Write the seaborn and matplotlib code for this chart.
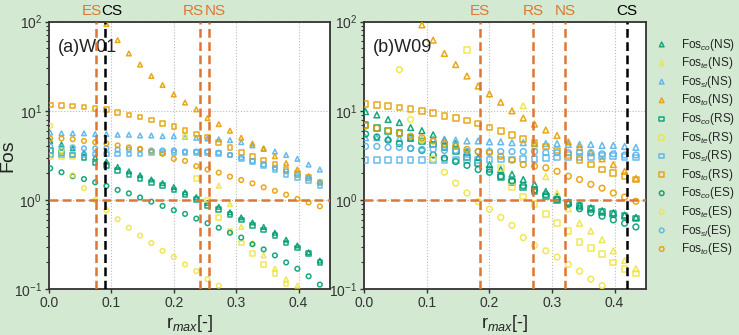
import numpy as np
import matplotlib
matplotlib.use("Agg")
import matplotlib.pyplot as plt
import seaborn as sns

nan = np.nan

# r_max grid (same for both wells)
r = [0.002, 0.020, 0.038, 0.056, 0.074, 0.092, 0.110, 0.128, 0.146, 0.164, 0.182, 0.200, 0.218,
     0.236, 0.254, 0.272, 0.290, 0.308, 0.326, 0.344, 0.362, 0.380, 0.398, 0.416, 0.434]

# ---- W01 ----
co_NS_a = [4.6, 4.2, 3.8, 3.4, 3.0, 2.7, 2.35, 2.1, 1.9, 1.7, 1.55, 1.4, 1.22, 1.08, 0.93, 0.84, 0.73, 0.64, 0.56, 0.5, 0.43, 0.36, 0.31, 0.26, 0.21]
te_NS_a = [nan] * 15 + [1.45, 0.9, 0.5, 0.33, 0.24, 0.17, 0.13, 0.11, nan, nan]
sl_NS_a = [5.7, 5.6, 5.6, 5.6, 5.5, 5.5, 5.4, 5.4, 5.3, 5.3, 5.2, 5.2, 5.1, 5.0, 4.9, 4.8, 4.7, 4.45, 4.1, 3.75, 3.5, 3.2, 2.9, 2.5, 2.2]
to_NS_a = [nan] * 5 + [94, 62, 44, 33, 24.6, 19.5, 15.3, 12.4, 10.4, 8.3, 7.1, 6.0, 5.0, 4.3, 3.8, 3.1, 2.6, 2.2, 1.86, 1.6]
co_RS_a = [3.6, 3.4, 3.2, 3.0, 2.6, 2.45, 2.15, 1.95, 1.75, 1.58, 1.45, 1.3, 1.15, 1.02, 0.87, 0.79, 0.69, 0.6, 0.52, 0.46, 0.4, 0.33, 0.29, 0.25, 0.2]
te_RS_a = [3.1, 3.1, 3.1] + [nan] * 9 + [5.1, 1.75, 1.0, 0.64, 0.45, 0.33, 0.25, 0.19, 0.15, 0.115, nan, nan, nan]
sl_RS_a = [3.2, 3.2, 3.2, 3.2, 3.3, 3.3, 3.3, 3.3, 3.3, 3.4, 3.4, 3.4, 3.4, 3.4, 3.4, 3.35, 3.2, 2.9, 2.7, 2.45, 2.2, 1.95, 1.8, 1.65, 1.45]
to_RS_a = [11.6, 11.4, 11.3, 11.0, 10.6, 10.3, 9.6, 9.0, 8.5, 7.9, 7.25, 6.65, 6.0, 5.5, 5.1, 4.4, 3.9, 3.4, 3.1, 2.8, 2.5, 2.2, 2.0, 1.8, 1.6]
co_ES_a = [2.27, 2.05, 1.85, 1.72, 1.58, 1.44, 1.3, 1.19, 1.07, 0.96, 0.86, 0.77, 0.7, 0.62, 0.55, 0.49, 0.43, 0.38, 0.32, 0.28, 0.24, 0.2, 0.17, 0.14, 0.113]
te_ES_a = [6.8, 3.6, 1.9, 1.36, 1.0, 0.77, 0.61, 0.49, 0.4, 0.33, 0.27, 0.23, 0.19, 0.16, 0.13, 0.11] + [nan] * 9
sl_ES_a = [4.0, 3.9, 3.9, 3.8, 3.8, 3.8, 3.7, 3.7, 3.7, 3.6, 3.6, 3.6, 3.5, 3.5, 3.5, 3.4, 3.2, 3.0, 2.75, 2.5, 2.3, 2.1, 1.9, 1.75, 1.55]
to_ES_a = [4.9, 4.9, 4.8, 4.6, 4.45, 4.3, 4.1, 3.9, 3.75, 3.5, 3.3, 2.9, 2.75, 2.4, 2.2, 2.03, 1.83, 1.68, 1.54, 1.39, 1.27, 1.15, 1.03, 0.94, 0.85]

# ---- W09 ----
co_NS_b = [9.8, 9.0, 8.0, 7.4, 6.5, 6.0, 5.4, 4.7, 4.3, 3.5, 3.0, 2.5, 2.2, 1.95, 1.7, 1.5, 1.25, 1.1, 0.95, 0.88, 0.82, 0.76, 0.72, 0.68, 0.64]
te_NS_b = [nan] * 14 + [11.4, 4.0, 1.83, 1.2, 0.8, 0.55, 0.45, 0.36, 0.27, 0.21, 0.17]
sl_NS_b = [5.0, 5.0, 4.9, 4.9, 4.9, 4.8, 4.8, 4.8, 4.7, 4.6, 4.6, 4.5, 4.5, 4.4, 4.4, 4.3, 4.3, 4.3, 4.2, 4.2, 4.2, 4.1, 4.1, 4.0, 3.9]
to_NS_b = [nan] * 5 + [92, 62, 44, 33, 24.6, 19, 15.5, 12.5, 10, 8.3, 7.1, 6.1, 5.3, 4.5, 3.9, 3.4, 2.9, 2.5, 2.1, 1.75]
co_RS_b = [7.0, 6.4, 6.0, 5.6, 5.0, 4.6, 4.2, 3.9, 3.55, 3.0, 2.6, 2.2, 1.8, 1.6, 1.38, 1.25, 1.1, 1.0, 0.92, 0.86, 0.8, 0.74, 0.7, 0.66, 0.62]
te_RS_b = [nan] * 9 + [48, nan, nan, 2.3, 1.4, 1.1, 0.9, 0.7, 0.55, 0.45, 0.34, 0.29, 0.25, 0.2, 0.17, 0.15]
sl_RS_b = [2.8, 2.8, 2.8, 2.8, 2.8, 2.8, 2.8, 2.8, 2.8, 2.8, 2.8, 2.8, 2.85, 2.85, 2.9, 2.9, 2.95, 3.0, 3.0, 3.05, 3.05, 3.1, 3.1, 3.05, 3.0]
to_RS_b = [11.9, 11.6, 11.3, 10.9, 10.4, 10.0, 9.4, 8.8, 8.3, 7.8, 7.2, 6.5, 5.9, 5.4, 4.8, 4.4, 4.0, 3.6, 3.2, 2.8, 2.5, 2.2, 2.0, 1.85, 1.7]
co_ES_b = [5.5, 5.1, 4.7, 4.3, 3.8, 3.6, 3.2, 2.95, 2.7, 2.45, 2.2, 2.05, 1.85, 1.65, 1.45, 1.3, 1.15, 1.02, 0.9, 0.8, 0.72, 0.66, 0.6, 0.55, 0.5]
te_ES_b = [nan, nan, nan, 29, 8.0, 4.7, 2.9, 2.05, 1.55, 1.2, 0.96, 0.79, 0.64, 0.52, 0.38, 0.31, 0.27, 0.23, 0.19, 0.16, 0.13, 0.11, nan, nan, nan]
sl_ES_b = [4.0, 4.0, 3.9, 3.9, 3.8, 3.7, 3.7, 3.6, 3.6, 3.5, 3.5, 3.5, 3.5, 3.5, 3.5, 3.5, 3.4, 3.4, 3.4, 3.4, 3.4, 3.3, 3.3, 3.2, 3.2]
to_ES_b = [6.8, 6.4, 6.0, 5.6, 5.2, 5.0, 4.6, 4.3, 4.0, 3.7, 3.5, 3.4, 3.1, 2.8, 2.5, 2.4, 2.3, 2.1, 1.85, 1.7, 1.5, 1.36, 1.2, 1.08, 0.97]

# critical r_max lines: name -> (x, label x)
crit_a = {"ES": (0.075, 0.068), "CS": (0.090, 0.101), "RS": (0.2424, 0.231), "NS": (0.2557, 0.267)}
crit_b = {"ES": (0.1854, 0.1854), "RS": (0.270, 0.270), "NS": (0.3205, 0.3205), "CS": (0.4194, 0.4194)}

parts = ["co", "te", "sl", "to"]
cases = ["NS", "RS", "ES"]
colors = {"co": "#009E73", "te": "#F0E442", "sl": "#56B4E9", "to": "#E69F00"}
markers = {"NS": "^", "RS": "s", "ES": "o"}
line_orange = "#DD7733"

series_a = {
    ("co", "NS"): co_NS_a, ("te", "NS"): te_NS_a, ("sl", "NS"): sl_NS_a, ("to", "NS"): to_NS_a,
    ("co", "RS"): co_RS_a, ("te", "RS"): te_RS_a, ("sl", "RS"): sl_RS_a, ("to", "RS"): to_RS_a,
    ("co", "ES"): co_ES_a, ("te", "ES"): te_ES_a, ("sl", "ES"): sl_ES_a, ("to", "ES"): to_ES_a,
}
series_b = {
    ("co", "NS"): co_NS_b, ("te", "NS"): te_NS_b, ("sl", "NS"): sl_NS_b, ("to", "NS"): to_NS_b,
    ("co", "RS"): co_RS_b, ("te", "RS"): te_RS_b, ("sl", "RS"): sl_RS_b, ("to", "RS"): to_RS_b,
    ("co", "ES"): co_ES_b, ("te", "ES"): te_ES_b, ("sl", "ES"): sl_ES_b, ("to", "ES"): to_ES_b,
}

sns.set_theme(style="ticks")
plt.rcParams["font.family"] = ["Liberation Sans", "DejaVu Sans"]
plt.rcParams["mathtext.fontset"] = "custom"
plt.rcParams["mathtext.rm"] = "Liberation Sans"
plt.rcParams["mathtext.it"] = "Liberation Sans:italic"

bg = "#d3e9d2"
fig = plt.figure(figsize=(7.39, 3.35), dpi=100, facecolor=bg)
ax1 = fig.add_axes([0.0663, 0.1364, 0.380, 0.799])
ax2 = fig.add_axes([0.4930, 0.1364, 0.381, 0.799])


def draw(ax, series, crit, tag, msize):
    ax.set_facecolor("white")
    ax.grid(True, which="major", color="#bbbbbb", linestyle=":", linewidth=0.8)
    for case in cases:
        for p in parts:
            sns.scatterplot(x=r, y=series[(p, case)], ax=ax, marker=markers[case], s=msize,
                            color=colors[p], facecolor="none", edgecolor=colors[p],
                            linewidth=1.1, alpha=0.9,
                            label="Fos$_{%s}$(%s)" % (p, case), legend=False, zorder=3)
    for name, (xv, xl) in crit.items():
        c = "black" if name == "CS" else line_orange
        ax.axvline(xv, color=c, linestyle=(0, (3.5, 1.8)), linewidth=1.8, zorder=4)
        ax.text(xl, 1.012, name, color=c, fontsize=11, ha="center", va="bottom",
                transform=ax.get_xaxis_transform())
    ax.axhline(1.0, color=line_orange, linestyle=(0, (3.5, 1.8)), linewidth=1.8, zorder=4)
    ax.set_yscale("log")
    ax.set_ylim(0.1, 100)
    ax.set_xlim(0, 0.45)
    ax.set_xticks([0.0, 0.1, 0.2, 0.3, 0.4])
    ax.set_xticklabels(["0.0", "0.1", "0.2", "0.3", "0.4"])
    ax.text(0.03, 0.935, tag, transform=ax.transAxes, fontsize=13, ha="left", va="top",
            color="#222222")
    ax.set_xlabel("r$_{max}$[-]", fontsize=13, labelpad=2, color="#222222")
    ax.tick_params(axis="both", which="major", labelsize=10, colors="#333333", length=3,
                   width=1, direction="out", pad=2)
    ax.tick_params(axis="y", which="minor", length=2, width=0.8, colors="#333333")
    for sp in ax.spines.values():
        sp.set_visible(True)
        sp.set_color("#333333")
        sp.set_linewidth(1.3)


draw(ax1, series_a, crit_a, "(a)W01", 11)
draw(ax2, series_b, crit_b, "(b)W09", 17)
ax1.set_ylabel("Fos", fontsize=14, color="#222222")
ax1.yaxis.set_label_coords(-0.115, 0.5)

handles, labels = ax1.get_legend_handles_labels()
fig.legend(handles, labels, loc="upper left", bbox_to_anchor=(0.881, 0.905), frameon=False,
           fontsize=8.5, labelspacing=0.22, handletextpad=1.1, handlelength=1.0,
           markerscale=1.0, borderaxespad=0)

fig.savefig("out.png", dpi=100, facecolor=bg)
